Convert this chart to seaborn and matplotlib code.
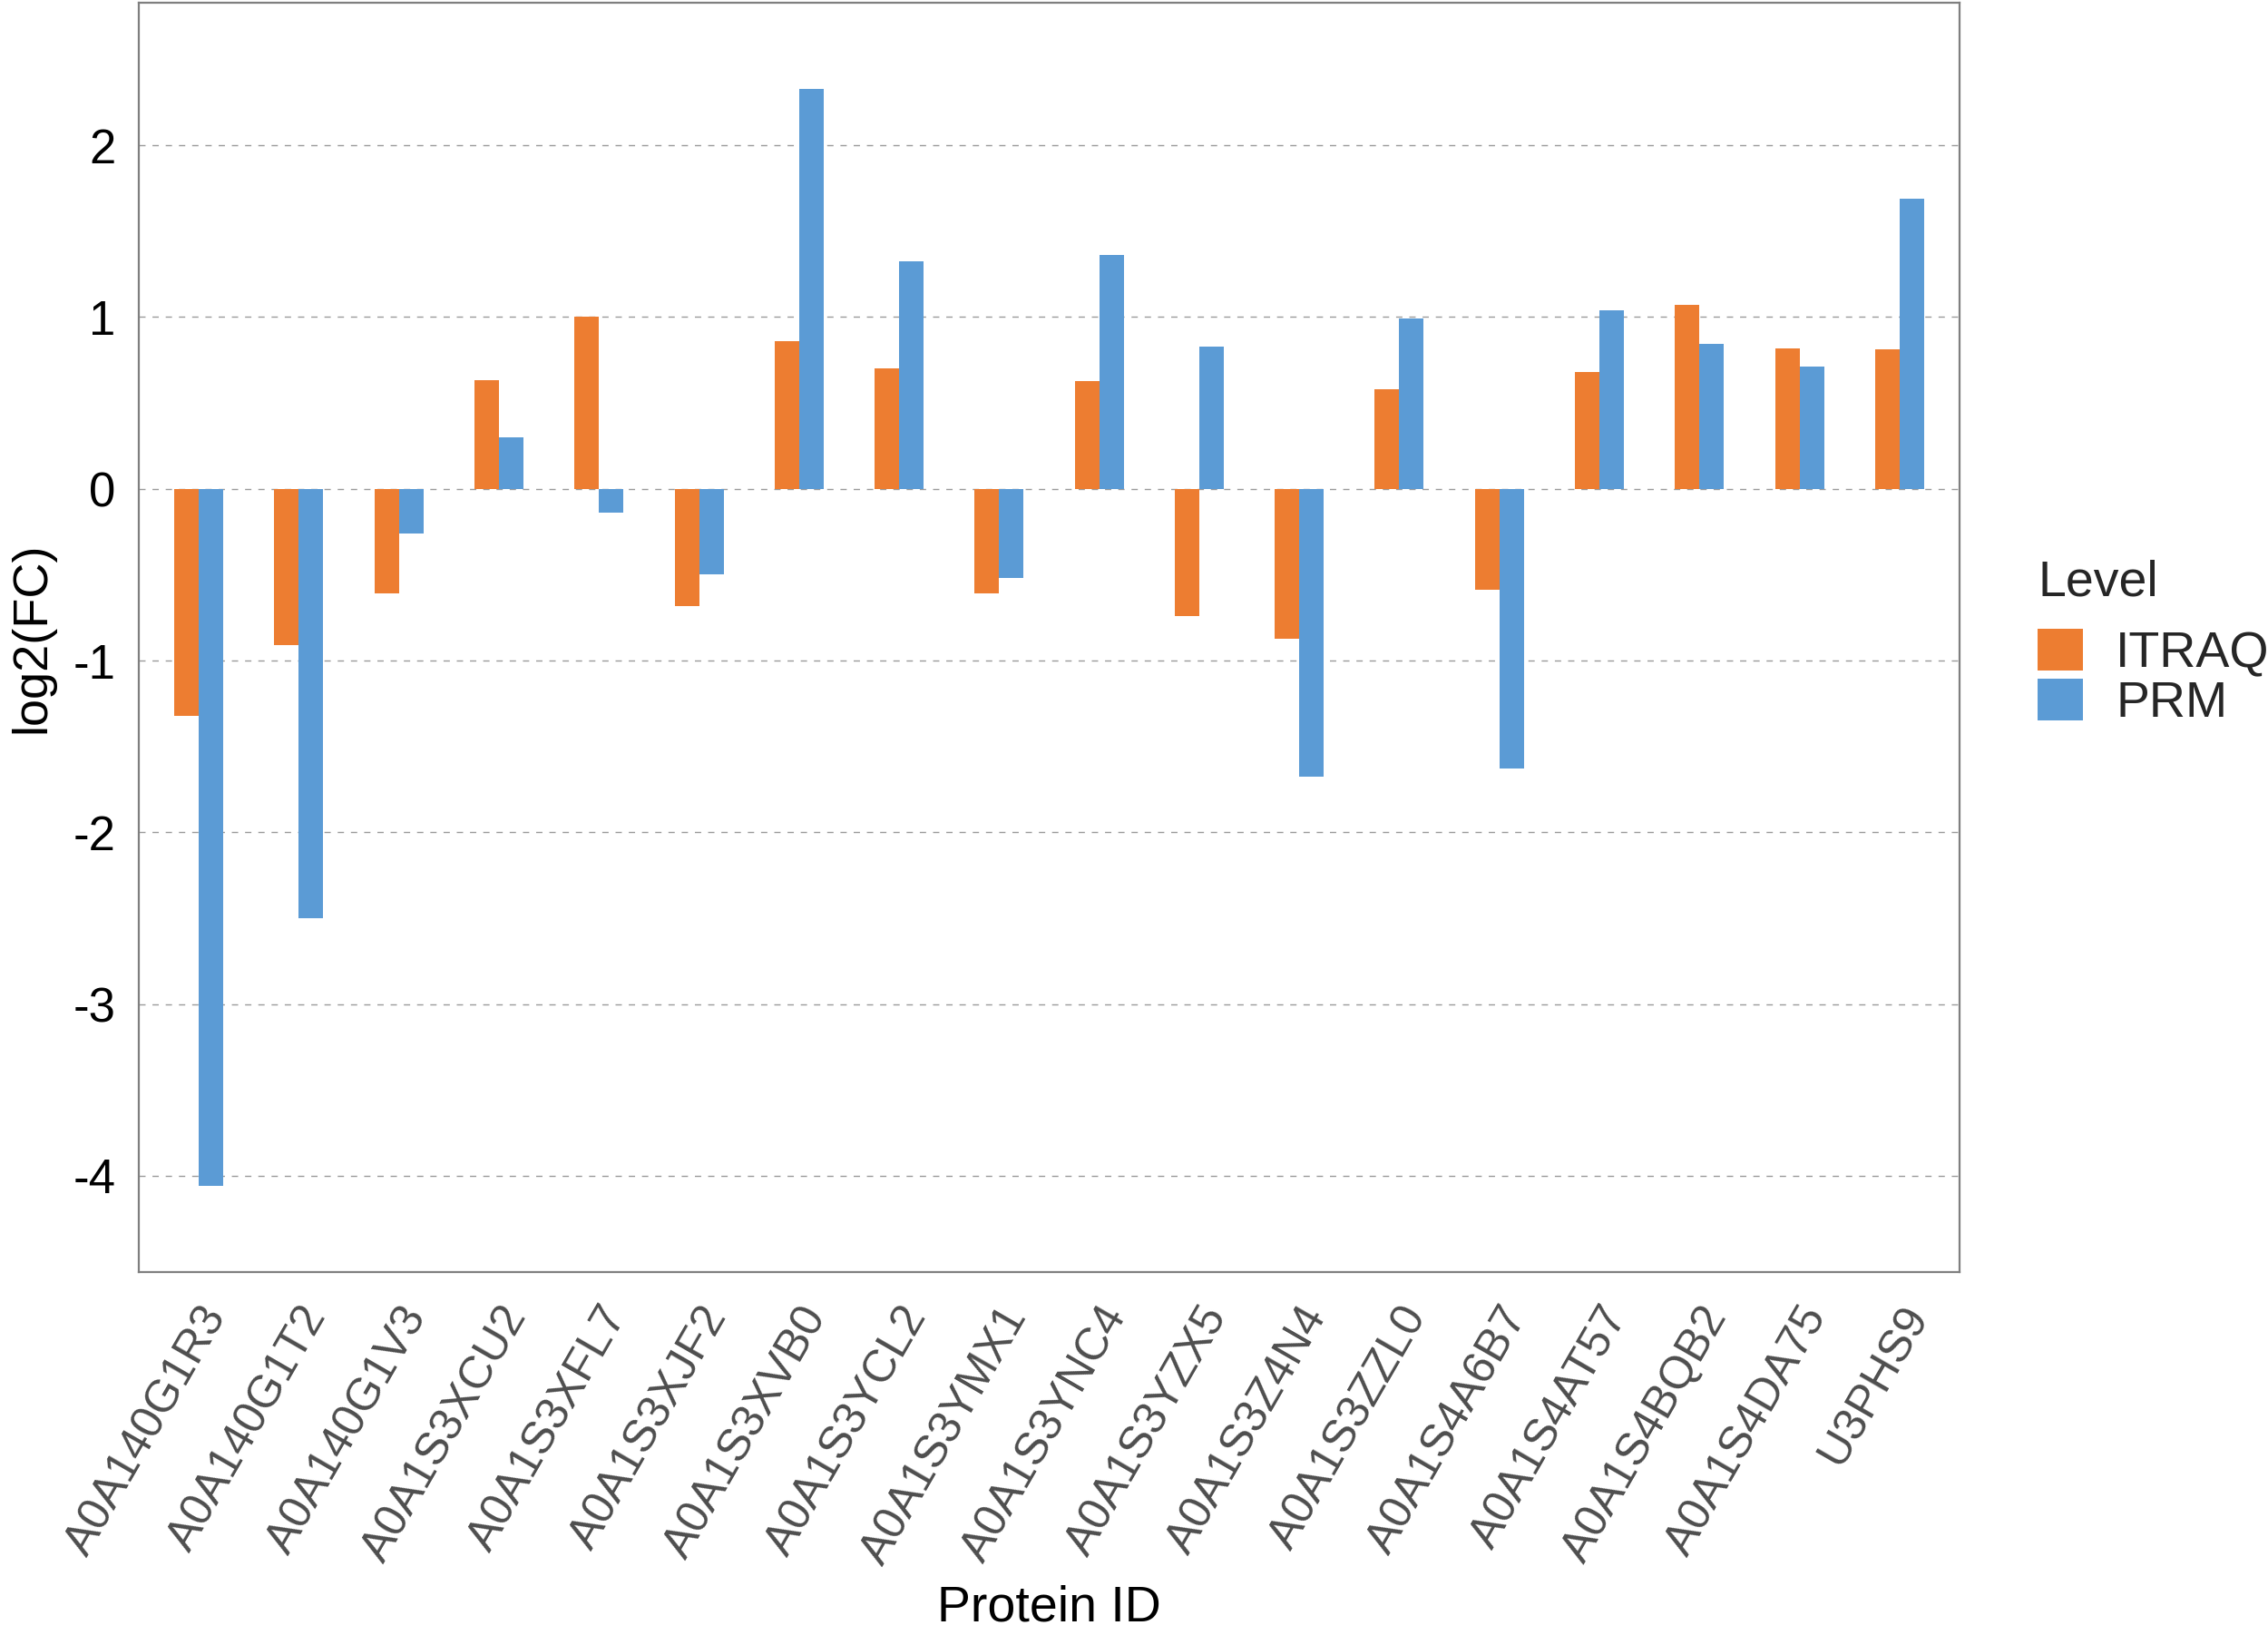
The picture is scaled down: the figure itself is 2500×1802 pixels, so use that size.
import matplotlib
matplotlib.use("Agg")
import matplotlib.pyplot as plt
import seaborn as sns
import pandas as pd

# ── Data ───────────────────────────────────────────────────────────
proteins = ["A0A140G1R3", "A0A140G1T2", "A0A140G1V3", "A0A1S3XCU2",
            "A0A1S3XFL7", "A0A1S3XJF2", "A0A1S3XVB0", "A0A1S3YCL2",
            "A0A1S3YMX1", "A0A1S3YNC4", "A0A1S3YZX5", "A0A1S3Z4N4",
            "A0A1S3ZZL0", "A0A1S4A6B7", "A0A1S4AT57", "A0A1S4BQB2",
            "A0A1S4DA75", "U3PHS9"]
itraq = [-1.32, -0.91, -0.61, 0.635, 1.005, -0.685, 0.86, 0.70, -0.61,
         0.63, -0.74, -0.875, 0.58, -0.59, 0.68, 1.07, 0.82, 0.81]
prm = [-4.06, -2.50, -0.26, 0.30, -0.14, -0.50, 2.33, 1.325, -0.52,
       1.36, 0.83, -1.675, 0.99, -1.63, 1.04, 0.845, 0.71, 1.69]
levels = ["ITRAQ", "PRM"]
colors = ["#ED7D31", "#5B9BD5"]
yticks = [-4, -3, -2, -1, 0, 1, 2]

df = pd.DataFrame({
    "Protein ID": proteins * 2,
    "log2(FC)": itraq + prm,
    "Level": [levels[0]] * len(itraq) + [levels[1]] * len(prm),
})

sns.set_theme(style="white")
plt.rcParams["font.family"] = ["Liberation Sans", "DejaVu Sans"]
plt.rcParams["axes.unicode_minus"] = False

fig = plt.figure(figsize=(25, 18.02), dpi=100)
ax = fig.add_axes([0.0612, 0.222, 0.8028, 0.7763])

sns.barplot(data=df, x="Protein ID", y="log2(FC)", hue="Level",
            hue_order=levels, order=proteins, palette=colors,
            saturation=1, errorbar=None, width=0.49, linewidth=0, ax=ax)

ax.set_xlim(-0.6, len(proteins) - 0.4)
ax.set_ylim(-4.56, 2.83)
ax.set_yticks(yticks)
ax.set_yticklabels([str(t) for t in yticks])

# grid + frame
ax.set_axisbelow(True)
ax.yaxis.grid(True, color="#9A9A9A", linewidth=1.0, linestyle=(0, (5, 5.5)))
ax.xaxis.grid(False)
for sp in ax.spines.values():
    sp.set_color("#7F7F7F")
    sp.set_linewidth(1.6)

ax.tick_params(axis="both", which="major", direction="out", length=10.5,
               width=1.3, color="black")
ax.tick_params(axis="y", labelsize=38, labelcolor="black", pad=8)
ax.tick_params(axis="x", labelsize=36, labelcolor="#4D4D4D", pad=11)
for lab in ax.get_xticklabels():
    lab.set_rotation(60)
    lab.set_rotation_mode("anchor")
    lab.set_ha("right")
    lab.set_va("top")

ax.set_xlabel("Protein ID", fontsize=40, color="black")
ax.set_ylabel("log2(FC)", fontsize=39, color="black")
ax.xaxis.set_label_coords(0.5, -0.246)
ax.yaxis.set_label_coords(-0.046, 0.5)

# legend
handles, labels = ax.get_legend_handles_labels()
ax.legend_.remove()
leg = fig.legend(handles, labels, title="Level", loc="upper left",
                 bbox_to_anchor=(0.8985, 0.658), frameon=False,
                 fontsize=40, title_fontsize=40, handlelength=0.9,
                 handleheight=0.9, labelspacing=0.0, handletextpad=0.65,
                 borderpad=0, borderaxespad=0, alignment="left")
leg._legend_box.sep = 18

fig.savefig("out.png", dpi=100)
plt.close(fig)
